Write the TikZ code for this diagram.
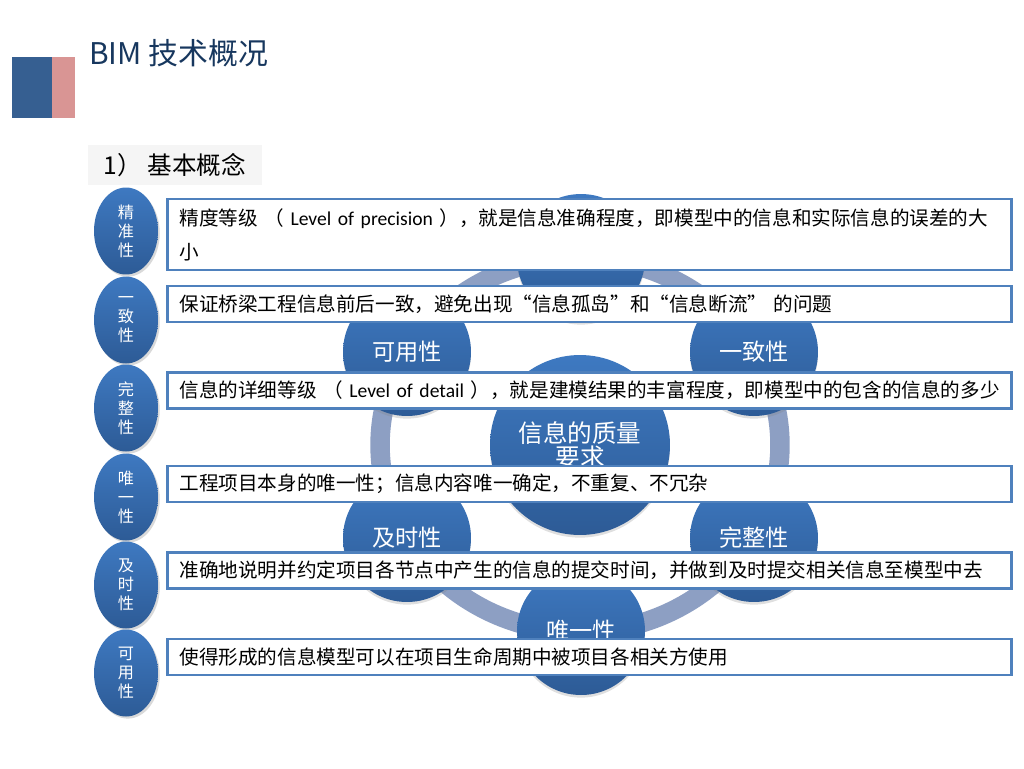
\documentclass[tikz,border=0pt]{standalone}
\usepackage{fontspec}
\setmainfont{Noto Sans CJK SC}
\newfontfamily\latf{Carlito}
\usepackage{tikz}
\usetikzlibrary{shapes.geometric,shadows}

\definecolor{titleblue}{RGB}{23,55,94}
\definecolor{markblue}{RGB}{54,95,145}
\definecolor{markpink}{RGB}{217,149,148}
\definecolor{boxblue}{RGB}{79,129,189}
\definecolor{circtop}{RGB}{62,121,193}
\definecolor{circbot}{RGB}{45,91,150}
\definecolor{ringcol}{RGB}{141,159,195}

\begin{document}
\begin{tikzpicture}[
  x=0.02cm, y=-0.02cm,
  titletext/.style={anchor=west, inner sep=0pt, text=titleblue, font=\fontsize{17}{20}\selectfont},
  subbox/.style={fill=gray!8, minimum width=3.48cm, minimum height=0.8cm, inner sep=0pt, font=\fontsize{14}{16}\selectfont},
  sidelbl/.style={ellipse, shade, top color=circtop, bottom color=circbot, minimum width=1.28cm, minimum height=1.74cm, inner sep=0pt, align=center, text=white, font=\fontsize{9.2}{10.8}\selectfont, drop shadow={opacity=0.3, shadow xshift=1pt, shadow yshift=-1.2pt}},
  sat/.style={circle, shade, top color=circtop, bottom color=circbot, minimum size=2.56cm, inner sep=0pt, text=white, font=\fontsize{13.2}{14}\selectfont, drop shadow={opacity=0.25, shadow xshift=0pt, shadow yshift=-1.5pt}},
  hub/.style={circle, shade, top color=circtop, bottom color=circbot, minimum size=3.6cm, inner sep=0pt, align=center, text=white, font=\fontsize{14}{13.8}\selectfont, drop shadow={opacity=0.25, shadow xshift=0pt, shadow yshift=-1.5pt}},
  descbox/.style={draw=boxblue, line width=1.5pt, fill=white, text width=16.4cm, inner xsep=0.24cm, inner ysep=0pt, align=left, font=\fontsize{11.15}{19.3}\selectfont},
  ring/.style={draw=ringcol, line width=0.39cm}
]
\useasboundingbox (0,0) rectangle (1024,768);

\fill[markblue] (12,57) rectangle (52,118);
\fill[markpink] (52,57) rectangle (75,118);
\node[titletext] (title) at (89,53) {BIM 技术概况};
\node[subbox] (sub) at (175,165) {1） 基本概念};

\draw[ring] (580,445) ellipse [x radius=4cm, y radius=3.74cm];
\node[sat] (s1) at (581,258) {};
\node[sat] (s2) at (754,352) {一致性};
\node[sat] (s3) at (754,538) {完整性};
\node[sat] (s4) at (581,631) {唯一性};
\node[sat] (s5) at (407,538) {及时性};
\node[sat] (s6) at (407,352) {可用性};
\node[hub] (c0) at (580,445) {信息的质量\\要求};

\node[sidelbl] (e1) at (126,231) {精\\准\\性};
\node[sidelbl] (e2) at (126,320) {一\\致\\性};
\node[sidelbl] (e3) at (126,408) {完\\整\\性};
\node[sidelbl] (e4) at (126,497) {唯\\一\\性};
\node[sidelbl] (e5) at (126,585) {及\\时\\性};
\node[sidelbl] (e6) at (126,673) {可\\用\\性};

\node[descbox, minimum height=1.42cm] (b1) at (589.5,234.5) {精度等级 （ {\latf Level of precision} ），就是信息准确程度，即模型中的信息和实际信息的误差的大\\小};
\node[descbox, minimum height=0.72cm] (b2) at (589.5,304) {保证桥梁工程信息前后一致，避免出现“信息孤岛”和“信息断流” 的问题};
\node[descbox, minimum height=0.72cm] (b3) at (589.5,390.5) {信息的详细等级 （ {\latf Level of detail} ），就是建模结果的丰富程度，即模型中的包含的信息的多少};
\node[descbox, minimum height=0.72cm] (b4) at (589.5,484) {工程项目本身的唯一性；信息内容唯一确定，不重复、不冗杂};
\node[descbox, minimum height=0.72cm] (b5) at (589.5,570.5) {准确地说明并约定项目各节点中产生的信息的提交时间，并做到及时提交相关信息至模型中去};
\node[descbox, minimum height=0.72cm] (b6) at (589.5,657) {使得形成的信息模型可以在项目生命周期中被项目各相关方使用};
\end{tikzpicture}
\end{document}
